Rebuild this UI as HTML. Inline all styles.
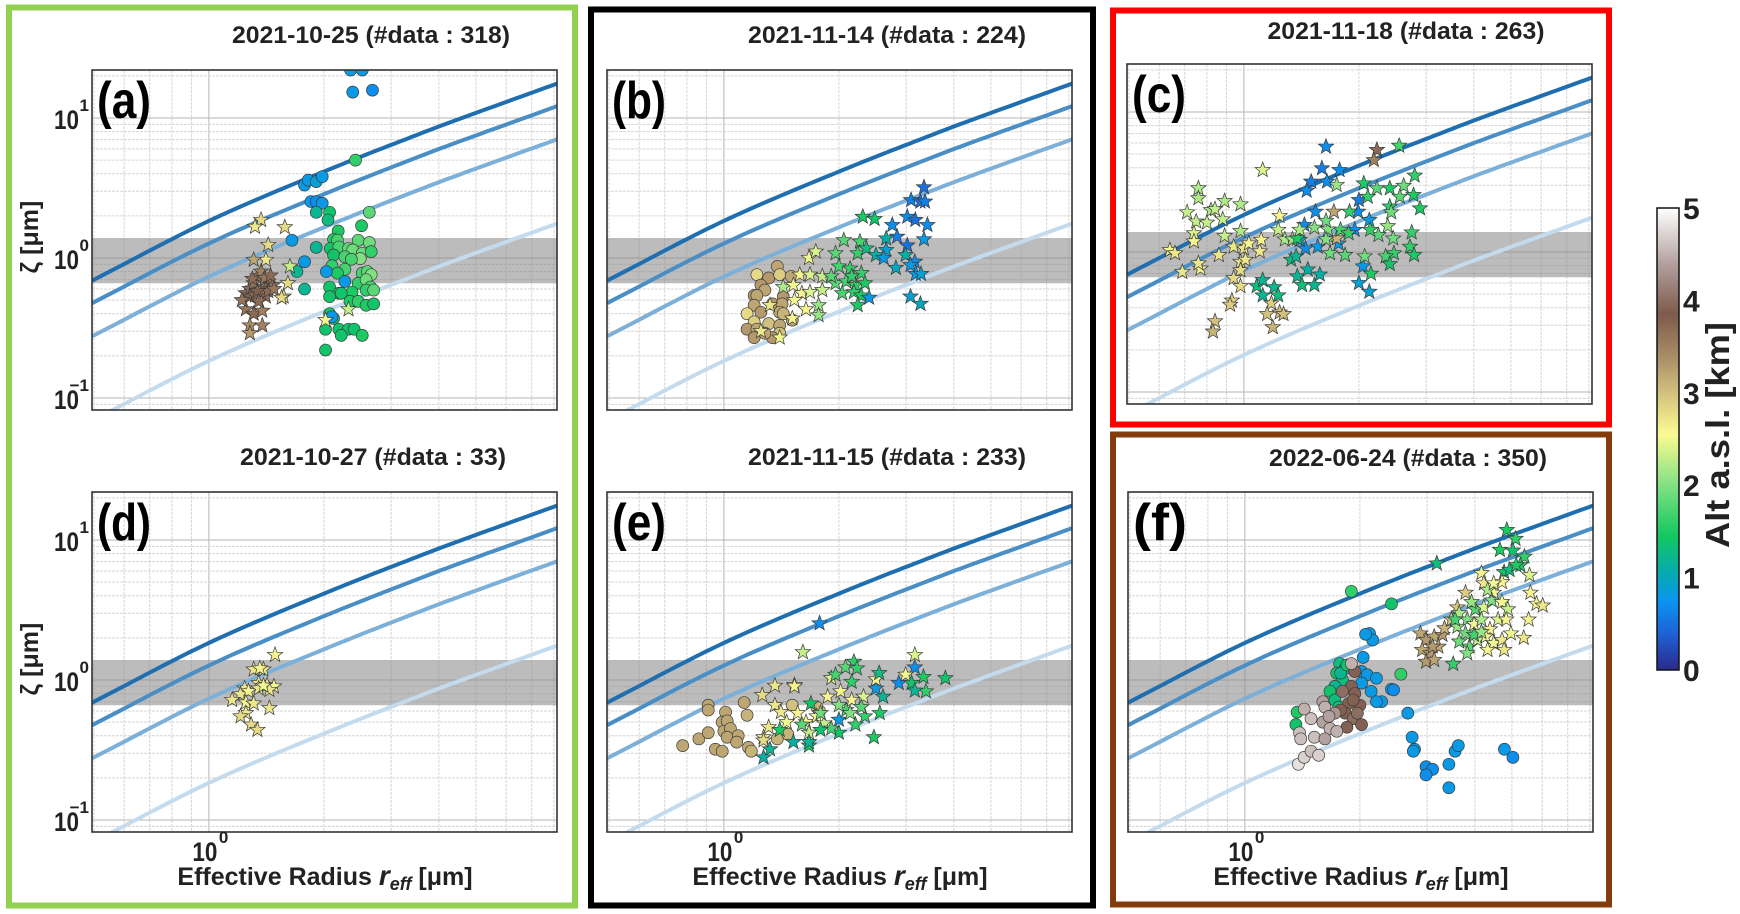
<!DOCTYPE html>
<html><head><meta charset="utf-8"><style>
html,body{margin:0;padding:0;background:#fff;}
svg{display:block;font-family:"Liberation Sans",sans-serif;}
</style></head><body>
<svg id="fig" width="1740" height="914" viewBox="0 0 1740 914" xmlns="http://www.w3.org/2000/svg">
<rect x="0" y="0" width="1740" height="914" fill="#fff"/>
<rect x="9" y="7.5" width="566" height="898" fill="none" stroke="#92d050" stroke-width="6"/>
<rect x="591" y="9.5" width="502" height="896" fill="none" stroke="#000" stroke-width="6"/>
<rect x="1113" y="10.5" width="496" height="414" fill="none" stroke="#ff0000" stroke-width="6"/>
<rect x="1113" y="434.5" width="496" height="470" fill="none" stroke="#843c0c" stroke-width="6"/>
<g id="panels"></g>
<g id="cbar"></g>
</svg>
<script>
// ---- data: [r_eff (µm), zeta (µm), altitude (km)] ----
const curveR = [0.5, 1, 2, 4, 8.2];
const curveZeta = [0.70, 1.84, 4.14, 8.7, 17.7];
const curveFactors = [1, 0.69, 0.4, 0.1];
const bandRange = [0.66, 1.39];

const aCircles = [[2.35,22,0.8],[2.52,22,0.8],[2.38,15.3,0.8],[2.68,15.8,0.7],[2.42,5.0,1.6],
[1.78,3.32,0.8],[1.82,3.6,0.8],[1.91,3.51,0.9],[1.98,3.81,0.8],[1.85,2.53,0.8],[1.91,2.53,0.7],[1.98,2.46,0.8],
[1.91,2.12,1.2],[1.91,1.19,1.2],[1.70,0.80,1.2],[1.78,0.60,1.2],[1.65,1.34,0.8],[1.78,0.94,0.8],
[2.07,2.12,1.4],[2.05,1.87,1.3],[2.18,1.56,1.5],[2.51,1.70,1.5],[2.63,2.12,1.8],[2.12,1.36,1.5],[2.17,1.34,1.7],[2.46,1.34,1.8],[2.63,1.29,1.9],[2.08,1.17,1.4],[2.19,1.20,1.7],[2.32,1.17,1.8],[2.38,1.14,1.9],[2.52,1.08,1.9],[2.66,1.11,1.6],[2.12,1.05,1.4],[2.27,1.02,1.7],[2.49,0.99,2.0],[2.36,0.98,1.7],[2.10,0.88,1.6],[2.27,0.83,1.7],[2.17,0.78,1.5],[2.52,0.78,1.7],[2.60,0.80,1.8],[2.66,0.76,2.0],[2.46,0.66,1.6],[2.58,0.70,1.9],[2.65,0.62,1.7],[2.07,0.62,1.4],[2.19,0.56,1.5],[2.37,0.57,1.5],[2.58,0.59,1.6],[2.70,0.59,1.8],[2.07,0.53,1.4],[2.22,0.56,1.4],[2.34,0.49,1.5],[2.46,0.49,1.6],[2.58,0.46,1.5],[2.70,0.47,1.4],[2.07,0.40,1.4],[2.12,0.37,1.4],[2.02,0.31,1.4],[2.19,0.31,1.4],[2.32,0.31,1.4],[2.40,0.31,1.4],[2.22,0.28,1.4],[2.52,0.28,1.5],[2.02,0.22,1.4],
[2.27,0.68,0.8],[2.10,0.38,0.8],[2.03,0.80,0.8]];
const aStars = [[1.25,0.56,3.7],[1.28,0.60,3.7],[1.31,0.66,3.6],[1.34,0.74,3.7],[1.37,0.80,3.5],[1.40,0.62,3.7],[1.43,0.68,3.6],[1.47,0.64,3.7],[1.28,0.53,3.8],[1.32,0.54,3.7],[1.37,0.56,3.6],[1.41,0.53,3.7],[1.25,0.43,3.6],[1.31,0.40,3.7],[1.38,0.42,3.5],[1.28,0.33,3.4],[1.38,0.33,3.5],[1.28,0.29,3.3],[1.43,0.58,3.7],[1.48,0.60,3.6],[1.34,0.58,3.8],[1.30,0.71,3.7],[1.40,0.72,3.6],[1.45,0.75,3.7],[1.22,0.50,3.6],[1.35,0.49,3.7],
[1.37,1.87,2.8],[1.32,1.67,2.7],[1.58,1.66,2.8],[1.43,1.24,2.8],[1.41,0.97,2.7],[1.63,0.87,2.3],[1.61,0.66,2.8],[1.57,0.53,2.8],[1.55,0.52,2.8],[2.32,0.43,2.3],[2.02,0.36,2.6],[1.31,0.97,3.2]];

const bCircles = [[1.22,0.76,2.8],[1.31,0.72,3.3],[1.38,0.87,3.2],[1.40,0.76,2.9],[1.50,0.74,3.2],[1.25,0.64,3.3],[1.28,0.59,3.2],[1.20,0.54,3.3],[1.22,0.54,3.2],[1.43,0.53,3.3],[1.34,0.47,3.3],[1.42,0.47,3.2],[1.20,0.46,3.2],[1.25,0.41,3.3],[1.40,0.41,3.2],[1.15,0.40,2.8],[1.20,0.35,2.9],[1.31,0.34,3.0],[1.40,0.33,3.2],[1.51,0.36,3.2],[1.15,0.31,3.3],[1.22,0.31,3.2],[1.40,0.29,3.0],[1.34,0.27,3.3],[1.20,0.27,3.3],[1.28,0.29,3.2],[1.43,0.40,3.1]];
const bStars = [[1.67,1.00,2.5],[1.74,1.11,2.4],[1.58,0.76,2.6],[1.68,0.76,2.4],[1.81,0.74,2.3],[1.43,0.62,2.2],[1.52,0.64,2.5],[1.60,0.56,2.6],[1.68,0.57,2.4],[1.81,0.59,2.3],[1.53,0.50,2.5],[1.64,0.43,2.6],[1.77,0.46,2.1],[1.77,0.39,2.1],[1.51,0.37,2.6],[1.32,0.46,2.7],[1.25,0.30,2.7],[1.40,0.27,2.5],
[2.31,1.97,1.5],[2.48,1.90,1.4],[2.06,1.34,1.8],[2.27,1.31,1.7],[1.96,1.08,1.8],[2.24,1.08,1.6],[2.36,1.17,1.3],[2.00,0.87,1.7],[2.14,0.84,1.6],[2.29,0.78,1.6],[1.96,0.66,1.8],[2.09,0.68,1.7],[2.21,0.64,1.6],[2.34,0.66,1.5],[2.04,0.56,1.7],[2.19,0.57,1.6],[2.29,0.54,1.5],[2.24,0.46,1.5],[1.91,0.74,1.8],[2.16,0.74,1.6],
[3.34,3.20,0.5],[3.09,2.59,0.6],[3.27,2.53,0.5],[3.36,2.53,0.6],[3.02,1.97,0.7],[3.17,1.87,0.5],[3.41,1.72,0.7],[2.76,1.72,0.7],[2.84,1.42,0.6],[2.66,1.38,1.1],[3.34,1.36,0.8],[3.02,1.23,0.5],[2.66,1.14,0.9],[2.50,1.05,1.1],[2.62,1.00,0.8],[2.99,1.05,1.1],[3.16,0.94,0.7],[3.08,0.89,0.8],[2.82,0.85,1.0],[3.18,0.77,0.8],[3.28,0.77,0.9],[2.40,0.52,0.8],[3.08,0.53,0.9],[3.27,0.47,1.0]];

const cCircles = [];
const cStars = [[0.76,2.85,2.2],[0.76,2.42,2.2],[0.71,1.92,2.3],[0.82,1.99,2.2],[0.84,2.02,2.3],[0.89,2.31,2.2],[0.98,2.19,2.2],[0.75,1.65,2.3],[0.80,1.62,2.3],[0.88,1.71,2.3],[0.74,1.36,2.4],[0.89,1.30,2.3],[0.98,1.41,2.2],[1.12,3.85,2.4],[1.24,1.81,2.6],[1.23,1.44,2.3],[1.28,1.23,2.2],
[0.64,1.03,2.6],[0.66,0.98,2.7],[0.69,0.72,2.7],[0.74,1.19,2.6],[0.77,0.76,2.6],[0.76,0.83,2.7],[0.86,0.95,2.7],[0.94,1.09,2.7],[1.00,1.06,2.7],[1.03,1.15,2.6],[1.10,1.01,2.7],[1.11,1.22,2.6],[0.98,0.85,2.8],[1.01,0.88,2.7],[0.98,0.74,2.8],[0.94,0.65,2.8],[0.98,0.57,2.8],[0.93,0.45,2.9],[0.92,0.42,2.9],[1.18,0.43,2.9],[1.15,0.36,3.0],[1.24,0.37,3.0],[1.27,0.36,3.0],[0.84,0.32,3.0],[0.83,0.27,3.1],[1.19,0.29,3.1],
[1.08,0.57,1.3],[1.12,0.63,1.2],[1.12,0.49,1.2],[1.20,0.56,1.2],[1.23,0.49,1.3],[1.33,0.88,1.3],[1.37,0.93,1.2],[1.38,0.67,1.2],[1.42,0.58,1.3],[1.47,0.75,1.1],[1.53,0.58,1.2],[1.58,0.69,1.1],
[1.64,5.65,0.7],[1.60,3.96,0.6],[1.78,3.85,0.7],[1.50,3.18,0.6],[1.65,3.18,0.7],[1.46,2.74,0.7],[1.54,1.94,0.7],[1.44,1.56,0.7],[1.45,1.06,0.7],[1.56,1.09,0.8],[1.77,1.15,0.8],[1.95,1.44,0.7],[2.00,2.35,0.6],[1.99,1.94,0.7],[2.13,1.69,0.8],[2.05,0.79,0.8],[2.00,0.60,0.9],[2.13,0.52,0.9],[1.40,1.22,0.9],
[2.23,5.36,3.7],[2.19,4.53,3.5],[1.72,1.94,3.2],[1.75,1.25,3.1],
[2.55,5.74,1.7],[2.80,3.51,1.6],[1.75,3.01,2.1],[2.06,3.09,1.5],[2.23,2.85,1.8],[2.41,2.85,1.5],[2.62,2.97,1.9],[2.78,2.55,1.5],[2.56,2.48,1.8],[2.89,2.05,1.5],[2.11,2.48,1.6],[2.41,2.11,1.6],[2.43,1.92,1.9],[1.89,1.94,1.6],[1.79,1.44,1.7],[1.66,1.45,2.0],[1.64,1.67,1.9],[1.53,1.49,2.0],[2.38,1.53,2.1],[2.25,1.32,1.8],[2.14,1.44,1.6],[2.46,1.25,1.9],[2.75,1.38,1.6],[2.72,1.09,1.6],[2.79,0.95,1.5],[2.47,0.98,1.6],[2.35,0.93,1.7],[2.41,0.82,1.4],[2.15,0.70,1.5],[2.07,0.93,1.9],[1.84,0.95,1.8],[1.68,0.98,1.9],[1.64,1.23,2.0],[1.34,1.23,2.1],[1.38,1.25,1.5],[1.40,1.44,2.2],[1.88,1.36,1.6]];

const dCircles = [];
const dStars = [[1.49,1.51,2.6],[1.31,1.19,2.7],[1.39,1.19,2.7],[1.36,1.21,2.6],[1.35,0.95,2.7],[1.42,0.92,2.7],[1.48,0.90,2.6],[1.24,0.87,2.7],[1.21,0.79,2.7],[1.27,0.83,2.6],[1.35,0.87,2.7],[1.44,0.85,2.7],[1.15,0.72,2.7],[1.25,0.69,2.6],[1.31,0.68,2.7],[1.44,0.63,2.7],[1.25,0.58,2.7],[1.21,0.55,2.8],[1.29,0.48,2.8],[1.34,0.44,2.8],[1.39,0.91,2.5]];

const eCircles = [[0.78,0.34,3.2],[0.86,0.38,3.2],[0.91,0.66,3.2],[0.91,0.61,3.2],[0.91,0.42,3.2],[0.95,0.32,3.2],[0.99,0.31,3.2],[1.01,0.59,3.2],[0.99,0.50,3.2],[1.02,0.51,3.2],[1.00,0.43,3.2],[1.04,0.45,3.2],[1.02,0.39,3.2],[1.09,0.40,3.2],[1.08,0.36,3.2],[1.13,0.69,3.2],[1.15,0.56,3.1],[1.16,0.33,3.2],[1.18,0.31,3.1],[1.38,0.38,3.1],[1.47,0.41,3.1],[1.51,0.66,3.0],[1.78,0.60,3.0],[1.75,0.64,3.1]];
const eStars = [[1.78,2.54,0.7],[3.16,1.23,0.7],[2.87,0.95,0.7],[2.50,0.87,0.8],[2.00,0.52,0.8],
[1.61,1.58,2.3],[1.36,0.91,2.7],[1.53,0.92,2.7],[1.53,0.90,2.6],[1.26,0.78,2.8],[1.36,0.66,2.7],[1.41,0.59,2.7],[1.31,0.46,2.7],[1.27,0.39,2.7],[1.27,0.37,2.8],[3.16,1.51,2.4],[2.99,1.09,2.5],[2.50,1.01,2.6],[1.91,1.03,2.4],[1.87,0.76,2.6],[2.02,0.83,2.6],[2.16,0.72,2.6],[2.32,0.76,2.4],[1.46,0.50,2.5],[1.56,0.58,2.6],[1.64,0.50,2.6],[1.75,0.55,2.5],[1.83,0.49,2.3],[1.67,0.42,2.3],
[2.19,1.35,1.6],[2.08,1.23,1.8],[2.23,1.21,1.6],[1.96,1.09,1.7],[2.16,0.97,1.6],[2.55,1.12,1.3],[3.33,1.05,1.5],[3.10,0.95,1.4],[3.80,1.03,1.4],[3.38,0.83,1.6],[3.16,0.84,1.2],[2.61,0.76,1.2],[2.56,0.58,1.5],[2.34,0.55,1.6],[2.21,0.48,1.6],[2.47,0.39,1.5],[2.29,0.64,1.8],[2.09,0.61,1.7],[2.00,0.42,1.4],[1.91,0.45,1.7],[1.69,0.68,1.4],[1.79,0.44,1.4],[1.67,0.34,1.4],[1.40,0.44,1.5],[1.60,0.48,1.8],[1.79,0.58,1.9],[2.00,0.66,2.0],[2.14,0.58,2.0],
[1.32,0.32,1.2],[1.27,0.28,1.1],[1.52,0.36,1.1],[1.67,0.36,1.2]];

const fCircles = [[1.90,4.3,1.6],[2.42,3.5,1.4],[2.56,1.10,1.6],[1.37,0.59,1.5],[1.36,0.48,1.4],
[2.12,2.15,0.8],[2.16,1.93,0.8],[2.07,2.12,0.8],[2.04,1.45,0.8],[2.02,1.15,0.8],[2.09,1.09,0.8],[2.21,1.03,0.8],[2.02,0.95,0.8],[2.14,0.83,0.8],[2.28,0.70,0.8],[2.21,0.70,0.8],[2.42,0.86,0.8],[2.45,0.85,0.7],[2.67,0.58,0.8],[2.74,0.39,0.8],[2.78,0.32,0.8],[2.76,0.31,0.8],[2.98,0.24,0.7],[3.10,0.23,0.7],[2.98,0.21,0.7],[3.42,0.25,0.8],[3.42,0.17,0.8],[3.55,0.31,0.8],[3.62,0.34,0.8],[4.78,0.32,0.8],[5.03,0.28,0.7],
[1.77,1.31,1.3],[1.83,1.21,1.2],[1.74,1.12,1.4],[1.80,1.00,1.3],[1.72,0.90,1.2],[1.67,0.83,1.4],[1.72,0.72,1.3],[1.76,0.64,1.3],[1.78,1.12,1.2],[1.85,1.28,1.4],
[1.94,1.15,3.9],[1.90,0.90,3.9],[1.94,0.80,3.9],[1.80,0.83,4.0],[1.87,0.68,3.8],[2.00,0.66,3.9],[1.83,0.58,3.8],[1.92,0.53,4.0],[2.02,0.48,3.9],[1.85,0.46,3.9],[1.78,0.61,3.9],[1.97,0.58,4.0],[1.92,0.72,3.8],
[1.90,1.31,4.5],[1.60,0.70,4.4],[1.62,0.64,4.5],[1.43,0.62,4.5],[1.49,0.53,4.6],[1.39,0.42,4.6],[1.60,0.50,4.4],[1.67,0.45,4.5],[1.52,0.39,4.6],[1.62,0.38,4.4],[1.74,0.43,4.5],[1.40,0.38,4.6],[1.38,0.25,4.8],[1.43,0.28,4.7],[1.49,0.31,4.6],[1.56,0.29,4.7],[1.72,0.58,4.3],[1.66,0.55,4.4]];
const fStars = [[4.85,11.8,1.5],[5.11,10.2,1.6],[4.65,8.5,1.5],[5.03,8.4,1.4],[5.39,7.6,1.6],[5.26,6.6,1.5],[4.77,5.9,1.4],[4.93,6.1,1.3],[3.18,6.8,1.3],[3.51,1.30,1.6],[5.13,6.6,1.5],
[5.59,4.2,2.6],[5.80,3.5,2.6],[6.02,3.4,2.7],[5.53,2.7,2.6],[5.37,2.0,2.7],[5.56,5.6,2.4],[4.16,5.8,2.6],[4.22,4.9,2.7],[4.71,5.0,2.6],[4.48,4.2,2.6],
[2.88,2.15,3.2],[2.98,1.93,3.3],[3.13,2.04,3.2],[3.29,2.10,3.3],[2.91,1.64,3.2],[3.06,1.55,3.3],[3.21,1.73,3.2],[3.33,2.34,3.1],[2.98,1.35,3.3],[3.13,1.39,3.2],[3.10,1.73,3.3],[3.47,2.7,3.0],[3.60,3.3,3.0],[3.78,4.2,2.9],
[3.64,3.0,2.2],[3.82,2.7,2.0],[4.01,3.2,1.8],[4.22,3.3,2.4],[4.43,3.7,2.0],[4.71,3.6,2.5],[4.88,3.2,2.3],[3.60,2.4,2.1],[3.78,2.15,1.9],[3.98,2.5,2.5],[4.16,2.7,2.2],[4.38,2.3,2.6],[4.60,2.7,2.4],[4.83,2.7,2.6],[3.64,1.88,1.9],[3.87,1.73,1.8],[4.06,1.93,2.3],[4.27,2.04,2.6],[4.48,1.83,2.5],[4.71,1.93,2.7],[3.82,1.55,2.0],[4.32,1.64,2.6],[4.77,1.64,2.7],[3.55,2.7,1.7],[3.92,3.6,2.1],[4.32,4.4,2.2],[4.48,4.9,2.5],[3.98,2.1,1.7],[4.16,2.2,2.1],[4.97,2.15,2.5]];

const panelLabels = ['(a)','(b)','(c)','(d)','(e)','(f)'];
const panelTitles = ['2021-10-25 (#data : 318)','2021-11-14 (#data : 224)','2021-11-18 (#data : 263)','2021-10-27 (#data : 33)','2021-11-15 (#data : 233)','2022-06-24 (#data : 350)'];
const yTickExps = [-1, 0, 1];
const xTickExps = [0];
const cbTicks = [0,1,2,3,4,5];
const cmapStops = [[0,'#2b2a8c'],[0.4,'#1e62d6'],[0.75,'#0a95f0'],[1.05,'#06aab0'],[1.45,'#12c860'],[2.0,'#82e082'],[2.55,'#fbfb92'],[3.0,'#d2c07e'],[3.4,'#a88c66'],[3.85,'#7e5a4c'],[4.4,'#b3a19f'],[5.0,'#ffffff']];

const SVGNS='http://www.w3.org/2000/svg';
const root=document.getElementById('panels');
function mk(tag,attrs,parent){const e=document.createElementNS(SVGNS,tag);for(const k in attrs)e.setAttribute(k,attrs[k]);if(parent)parent.appendChild(e);return e;}
function hex(c){return [parseInt(c.slice(1,3),16),parseInt(c.slice(3,5),16),parseInt(c.slice(5,7),16)];}
function cmap(a){a=Math.max(0,Math.min(5,a));for(let i=1;i<cmapStops.length;i++){if(a<=cmapStops[i][0]){const t=(a-cmapStops[i-1][0])/(cmapStops[i][0]-cmapStops[i-1][0]);const c0=hex(cmapStops[i-1][1]),c1=hex(cmapStops[i][1]);return 'rgb('+c0.map((v,j)=>Math.round(v+(c1[j]-v)*t)).join(',')+')';}}return '#fff';}
// smooth (Catmull-Rom) interpolation in log-log space
function topCurve(r){const lr=Math.log10(r);const lx=curveR.map(Math.log10),ly=curveZeta.map(Math.log10);const n=lx.length;let i=0;while(i<n-2&&lr>lx[i+1])i++;
 const t=(lr-lx[i])/(lx[i+1]-lx[i]);
 const p0=i>0?ly[i-1]:2*ly[i]-ly[i+1],p1=ly[i],p2=ly[i+1],p3=i+2<n?ly[i+2]:2*ly[i+1]-ly[i];
 const v=0.5*((2*p1)+(-p0+p2)*t+(2*p0-5*p1+4*p2-p3)*t*t+(-p0+3*p1-3*p2+p3)*t*t*t);
 return Math.pow(10,v);}

const W=465,H=340,XMIN=-0.306,DEC_X=382,DEC_Y=140,Y0OFF=188;
const panels=[
 {x:92,y:70,data:[aCircles,aStars],tc:371,tb:43,tl:278,yt:true,xt:false},
 {x:607,y:70,data:[bCircles,bStars],tc:887,tb:43,tl:278,yt:false,xt:false},
 {x:1127,y:64,data:[cCircles,cStars],tc:1406,tb:39,tl:277,yt:false,xt:false},
 {x:92,y:492,data:[dCircles,dStars],tc:373,tb:465,tl:266,yt:true,xt:true},
 {x:607,y:492,data:[eCircles,eStars],tc:887,tb:465,tl:278,yt:false,xt:true},
 {x:1128,y:492,data:[fCircles,fStars],tc:1408,tb:466,tl:278,yt:false,xt:true}];
const names=['a','b','c','d','e','f'];

function starPath(cx,cy,R){let d='';for(let i=0;i<10;i++){const rr=i%2?R*0.42:R;const an=-Math.PI/2+i*Math.PI/5;d+=(i?'L':'M')+(cx+rr*Math.cos(an)).toFixed(1)+','+(cy+rr*Math.sin(an)).toFixed(1);}return d+'Z';}

panels.forEach((p,idx)=>{
 const X=r=>p.x+(Math.log10(r)-XMIN)*DEC_X;
 const Y=z=>p.y+Y0OFF-Math.log10(z)*DEC_Y;
 const g=mk('g',{},root);
 
 
 const cid='clip'+idx;
 const cp=mk('clipPath',{id:cid},g);mk('rect',{x:p.x,y:p.y,width:W,height:H},cp);
 const title=mk('text',{x:p.tc,y:p.tb,'text-anchor':'middle','font-size':24,'font-weight':'bold',fill:'#222',textLength:p.tl,lengthAdjust:'spacingAndGlyphs'},g);
 title.textContent=panelTitles[idx];
 
 
 const grid=mk('g',{'clip-path':'url(#'+cid+')'},g);
 
 
 for(let e=-1;e<=1;e++)for(let k=1;k<10;k++){const v=k*Math.pow(10,e);const xx=X(v);if(xx>p.x&&xx<p.x+W)mk('line',{x1:xx,x2:xx,y1:p.y,y2:p.y+H,stroke:k==1?'#b5b5b5':'#d6d6d6','stroke-width':1,'stroke-dasharray':k==1?'':'3,1'},grid);}
 for(let e=-2;e<=1;e++)for(let k=1;k<10;k++){const v=k*Math.pow(10,e);const yy=Y(v);if(yy>p.y&&yy<p.y+H)mk('line',{x1:p.x,x2:p.x+W,y1:yy,y2:yy,stroke:k==1?'#b5b5b5':'#d6d6d6','stroke-width':1,'stroke-dasharray':k==1?'':'3,1'},grid);}
 const band=mk('rect',{x:p.x,y:Y(bandRange[1]),width:W,height:Y(bandRange[0])-Y(bandRange[1]),fill:'#8c8c8c','fill-opacity':0.58},g);
 
 
 const cg=mk('g',{'clip-path':'url(#'+cid+')'},g);
 const cc=['#1f6fb0','#4a8ec6','#7db0d9','#c4dbee'];
 curveFactors.forEach((f,ci)=>{let d='';for(let i=0;i<=80;i++){const lr=XMIN+i/80*(W/DEC_X);const r=Math.pow(10,lr);d+=(i?'L':'M')+X(r).toFixed(1)+','+Y(topCurve(r)*f).toFixed(1);}
  const pth=mk('path',{d:d,fill:'none',stroke:cc[ci],'stroke-width':4},cg);
  
  });
 const mg=mk('g',{'clip-path':'url(#'+cid+')'},g);
 p.data[0].forEach(pt=>{const c=mk('circle',{cx:X(pt[0]),cy:Y(pt[1]),r:6,fill:cmap(pt[2]),stroke:'#3a3a3a','stroke-width':0.7},mg);
  
  });
 p.data[1].forEach(pt=>{const s=mk('path',{d:starPath(X(pt[0]),Y(pt[1]),8),fill:cmap(pt[2]),stroke:'#3a3a3a','stroke-width':0.7},mg);
  
  });
 const fr=mk('rect',{x:p.x,y:p.y,width:W,height:H,fill:'none',stroke:'#333','stroke-width':1.6},g);
 
 
 const lab=mk('text',{x:p.x+5,y:p.y+48,'font-size':52,'font-weight':'bold',fill:'#000',textLength:54,lengthAdjust:'spacingAndGlyphs'},g);
 lab.textContent=panelLabels[idx];
 
 
 if(p.yt){
  yTickExps.forEach(e=>{const yy=Y(Math.pow(10,e));const t=mk('text',{x:p.x-13,y:yy+11,'text-anchor':'end','font-size':27,'font-weight':'bold',fill:'#222',textLength:25,lengthAdjust:'spacingAndGlyphs'},g);
   t.textContent='10';
   
   
   const s=mk('text',{x:p.x-3,y:yy-7,'text-anchor':'end','font-size':17,'font-weight':'bold',fill:'#222'},g);
   s.textContent=e<0?'\u2212'+Math.abs(e):String(e);
   
   });
  const yl=mk('text',{transform:'translate(38,'+(p.y+167)+') rotate(-90)','text-anchor':'middle','font-size':25,'font-weight':'bold',fill:'#222'},g);
  yl.textContent='\u03B6 [\u03BCm]';
  
  
 }
 if(p.xt){
  xTickExps.forEach(e=>{const xx=X(Math.pow(10,e));const t=mk('text',{x:xx-4,y:p.y+H+29,'text-anchor':'middle','font-size':27,'font-weight':'bold',fill:'#222',textLength:25,lengthAdjust:'spacingAndGlyphs'},g);
   t.textContent='10';
   
   
   const s=mk('text',{x:xx+10,y:p.y+H+11,'font-size':17,'font-weight':'bold',fill:'#222'},g);
   s.textContent=String(e);
   
   });
  const xl=mk('text',{x:p.x+233,y:p.y+H+53,'text-anchor':'middle','font-size':25,'font-weight':'bold',fill:'#222'},g);
  xl.innerHTML='Effective Radius <tspan font-style="italic" font-size="28">r</tspan><tspan font-style="italic" font-size="18" dy="5">eff</tspan><tspan dy="-5"> [\u03BCm]</tspan>';
  
  
 }
});

// colorbar
const cb=document.getElementById('cbar');


const CB={x:1657,y:208,w:22,h:462};
const defs=mk('defs',{},cb);
const lg=mk('linearGradient',{id:'cbg',x1:0,y1:1,x2:0,y2:0},defs);
cmapStops.forEach(s=>mk('stop',{offset:(s[0]/5*100)+'%','stop-color':s[1]},lg));
const cbr=mk('rect',{x:CB.x,y:CB.y,width:CB.w,height:CB.h,fill:'url(#cbg)',stroke:'#111','stroke-width':1.5},cb);


cbTicks.forEach(v=>{const yy=CB.y+CB.h-v/5*CB.h;const t=mk('text',{x:CB.x+CB.w+4,y:yy+11,'font-size':30,'font-weight':'bold',fill:'#222'},cb);
 t.textContent=String(v);
 
 });
const cl=mk('text',{transform:'translate(1729,435) rotate(-90)','text-anchor':'middle','font-size':33,'font-weight':'bold',fill:'#222',textLength:226,lengthAdjust:'spacingAndGlyphs'},cb);
cl.textContent='Alt a.s.l. [km]';


</script>
</body></html>
